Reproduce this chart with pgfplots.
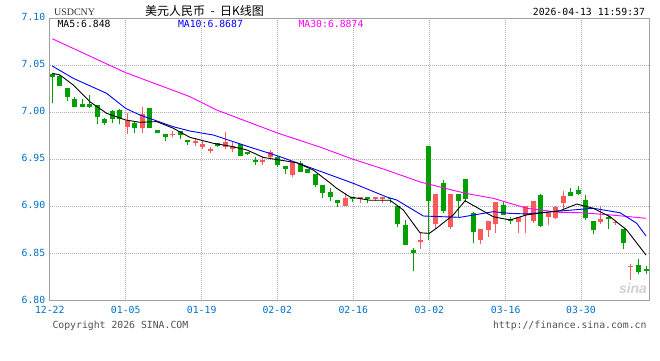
\documentclass[border=0pt]{standalone}
\usepackage{pgfplots}
\pgfplotsset{compat=1.18}
\usepackage{pgfplotstable}
\usepackage{fontspec}
\newfontfamily\mono{DejaVu Sans Mono}
\newfontfamily\cjk{Noto Sans CJK SC}
\newfontfamily\serifT{Liberation Serif}
\newfontfamily\sansA{Liberation Sans}
\definecolor{kgreen}{RGB}{0,160,0}
\definecolor{kred}{RGB}{250,90,90}
\definecolor{tickblue}{RGB}{0,112,200}
\definecolor{framegray}{RGB}{160,160,160}
\definecolor{gridgray}{RGB}{175,175,175}
\definecolor{txtgray}{RGB}{80,80,80}
\definecolor{mablue}{RGB}{0,0,255}
\definecolor{mamag}{RGB}{255,0,255}

% green = falling candles (close < open)
\pgfplotstableread{
i O H L C
0 7.0405 7.0412 7.0101 7.0377
1 7.0388 7.0395 7.0275 7.0282
2 7.0257 7.0262 7.0122 7.0165
3 7.0136 7.0158 7.0052 7.0059
4 7.0087 7.0136 7.0052 7.0059
5 7.0087 7.0182 7.0041 7.0059
6 7.0076 7.0080 6.9875 6.9945
7 6.9928 6.9935 6.9868 6.9882
8 7.0016 7.0020 6.9882 6.9928
9 7.0023 7.0030 6.9875 6.9928
11 6.9889 6.9895 6.9783 6.9836
13 7.0041 7.0045 6.9830 6.9836
14 6.9811 6.9815 6.9775 6.9783
15 6.9768 6.9772 6.9698 6.9733
17 6.9800 6.9805 6.9712 6.9758
18 6.9705 6.9710 6.9655 6.9680
22 6.9670 6.9675 6.9632 6.9645
25 6.9659 6.9665 6.9535 6.9539
26 6.9574 6.9578 6.9548 6.9553
27 6.9493 6.9528 6.9440 6.9468
30 6.9528 6.9532 6.9415 6.9440
31 6.9429 6.9433 6.9344 6.9397
33 6.9464 6.9486 6.9365 6.9369
34 6.9397 6.9401 6.9354 6.9358
35 6.9344 6.9348 6.9210 6.9227
36 6.9227 6.9230 6.9086 6.9146
37 6.9156 6.9192 6.9061 6.9103
38 6.9068 6.9072 6.8997 6.9040
40 6.9096 6.9100 6.9050 6.9078
42 6.9096 6.9100 6.9040 6.9078
45 6.9090 6.9094 6.9040 6.9078
46 6.9004 6.9008 6.8778 6.8813
47 6.8803 6.8856 6.8585 6.8590
48 6.8537 6.8555 6.8318 6.8502
50 6.9641 6.9645 6.8643 6.9061
52 6.9252 6.9280 6.8926 6.8955
54 6.9132 6.9136 6.8891 6.9061
55 6.9290 6.9295 6.9050 6.9075
56 6.8934 6.8938 6.8615 6.8732
60 6.9015 6.9050 6.8905 6.8909
61 6.8863 6.8884 6.8810 6.8849
65 6.9121 6.9132 6.8778 6.8796
69 6.9157 6.9192 6.9110 6.9114
70 6.9174 6.9217 6.9124 6.9128
71 6.9068 6.9121 6.8856 6.8881
72 6.8845 6.8848 6.8707 6.8750
74 6.8884 6.8909 6.8760 6.8863
76 6.8757 6.8760 6.8548 6.8615
78 6.8378 6.8442 6.8283 6.8307
79 6.8336 6.8371 6.8279 6.8314
}\greendata

% red = rising candles (close > open)
\pgfplotstableread{
i O H L C
10 6.9846 6.9988 6.9768 6.9906
12 6.9829 7.0059 6.9783 6.9981
16 6.9755 6.9800 6.9733 6.9767
19 6.9670 6.9723 6.9645 6.9698
20 6.9634 6.9705 6.9609 6.9659
21 6.9588 6.9634 6.9570 6.9609
23 6.9634 6.9793 6.9609 6.9687
24 6.9606 6.9698 6.9581 6.9645
28 6.9468 6.9521 6.9440 6.9493
29 6.9528 6.9599 6.9493 6.9574
32 6.9333 6.9472 6.9316 6.9468
39 6.9008 6.9139 6.9004 6.9093
41 6.9075 6.9100 6.9040 6.9096
43 6.9078 6.9100 6.9060 6.9096
44 6.9078 6.9100 6.9040 6.9096
49 6.8626 6.8732 6.8544 6.8643
51 6.8813 6.9136 6.8757 6.9132
53 6.8785 6.9136 6.8760 6.9132
57 6.8643 6.8760 6.8601 6.8757
58 6.8750 6.8848 6.8672 6.8845
59 6.8813 6.9050 6.8721 6.9043
62 6.8838 6.8888 6.8714 6.8884
63 6.8909 6.9008 6.8721 6.9004
64 6.8849 6.9061 6.8820 6.9057
66 6.8884 6.8931 6.8803 6.8927
67 6.8880 6.9004 6.8866 6.8997
68 6.9040 6.9167 6.8969 6.9111
73 6.8838 6.9004 6.8813 6.8866
75 6.8826 6.8840 6.8803 6.8838
77 6.8358 6.8385 6.8219 6.8370
}\reddata

\begin{document}
\begin{tikzpicture}[x=1pt,y=1pt]
\useasboundingbox (0,0) rectangle (660,360);
\node[font=\sansA\bfseries\itshape\fontsize{14}{14}\selectfont, text=black!18] at (633,72) {sina};
\begin{axis}[
  at={(49.8pt,59.4pt)}, anchor=south west,
  scale only axis, width=599.5pt, height=282.6pt,
  xmin=-0.33, xmax=79.44, ymin=6.80, ymax=7.10,
  xtick={-0.33,9.77,19.88,29.94,40.05,50.17,60.33,70.35},
  xticklabels={12-22,01-05,01-19,02-02,02-16,03-02,03-16,03-30},
  ytick={6.8,6.85,6.9,6.95,7.0,7.05,7.1},
  yticklabel style={/pgf/number format/fixed, /pgf/number format/precision=2, /pgf/number format/fixed zerofill},
  /pgf/number format/assume math mode=true,
  tick label style={font=\mono\fontsize{9.8}{10}\selectfont, text=tickblue},
  xticklabel style={yshift=-2pt},
  yticklabel style={xshift=-1pt, yshift=1pt},
  major tick length=0pt,
  grid=major,
  major grid style={gridgray, dash pattern=on 1pt off 1pt, line width=0.8pt},
  axis line style={framegray, line width=1pt},
]
\addplot[kgreen, line width=1pt, mark=none, quiver={u=0, v=\thisrow{H}-\thisrow{L}}] table[x=i, y=L] {\greendata};
\addplot[kgreen, line width=5pt, mark=none, quiver={u=0, v=\thisrow{O}-\thisrow{C}}] table[x=i, y=C] {\greendata};
\addplot[kred, line width=1pt, mark=none, quiver={u=0, v=\thisrow{H}-\thisrow{L}}] table[x=i, y=L] {\reddata};
\addplot[kred, line width=5pt, mark=none, quiver={u=0, v=\thisrow{C}-\thisrow{O}}] table[x=i, y=O] {\reddata};
% MA30
\addplot[mamag, line width=0.9pt, mark=none] coordinates {
(0,7.078) (6.12,7.0554) (9.77,7.042) (18.32,7.0165) (21.88,7.0023) (29.94,6.978)
(35.62,6.963) (40.05,6.950) (44.50,6.9385) (48.93,6.926) (53.36,6.917) (55.58,6.913)
(58.68,6.9086) (63.13,6.898) (67.56,6.8937) (70.35,6.8933) (74.21,6.891) (79,6.8874)};
% MA10
\addplot[mablue, line width=0.9pt, mark=none] coordinates {
(0,7.049) (2.79,7.036) (7.24,7.020) (9.77,7.004) (11.67,6.997) (16.10,6.9846)
(18.32,6.980) (21.42,6.9758) (25.87,6.964) (30.30,6.9528) (34.73,6.940) (40.05,6.9245)
(44.50,6.910) (45.83,6.9068) (49.37,6.8898) (54.25,6.8884) (58.68,6.8944) (60.90,6.8926)
(63.13,6.892) (67.56,6.8951) (71.99,6.898) (75.54,6.8933) (77.76,6.8821) (79,6.8686)};
% MA5
\addplot[black, line width=0.9pt, mark=none] coordinates {
(0,7.0413) (1.02,7.0395) (2.79,7.0289) (5.02,7.011) (7.24,6.9988) (9.77,6.9917)
(11.67,6.9893) (13.89,6.990) (16.10,6.9830) (16.99,6.9790) (18.32,6.9733) (21.42,6.967)
(23.65,6.964) (25.87,6.960) (28.08,6.952) (30.30,6.9492) (32.52,6.9464) (34.73,6.9386)
(36.95,6.925) (37.84,6.9192) (39.61,6.910) (42.28,6.9065) (44.94,6.9065) (46.71,6.8962)
(48.93,6.872) (50.17,6.8714) (51.15,6.877) (53.36,6.891) (54.92,6.906) (58.68,6.889)
(60.90,6.8856) (63.13,6.891) (65.34,6.8933) (67.56,6.8954) (69.78,6.9025) (71.99,6.898)
(74.21,6.8891) (76.43,6.875) (79,6.8484)};
\end{axis}
\node[anchor=west, font=\serifT\fontsize{10}{10}\selectfont, text=black!80] at (50.5,348) {USDCNY};
\node[anchor=west, font=\cjk\fontsize{12}{12}\selectfont] at (141.7,349.5) {美元人民币\ \ -\ \ 日K线图};
\node[anchor=east, font=\mono\fontsize{9.8}{10}\selectfont] at (648.5,348.3) {2026-04-13 11:59:37};
\node[anchor=west, font=\mono\fontsize{9.8}{10}\selectfont] at (54,336) {MA5:6.848};
\node[anchor=west, font=\mono\fontsize{9.8}{10}\selectfont, text=mablue] at (174.5,336) {MA10:6.8687};
\node[anchor=west, font=\mono\fontsize{9.8}{10}\selectfont, text=mamag] at (295,336) {MA30:6.8874};
\node[anchor=west, font=\mono\fontsize{9.8}{10}\selectfont, text=txtgray] at (49,34.5) {Copyright 2026 SINA.COM};
\node[anchor=east, font=\mono\fontsize{9.8}{10}\selectfont, text=txtgray] at (650,34) {http://finance.sina.com.cn};
\end{tikzpicture}
\end{document}
